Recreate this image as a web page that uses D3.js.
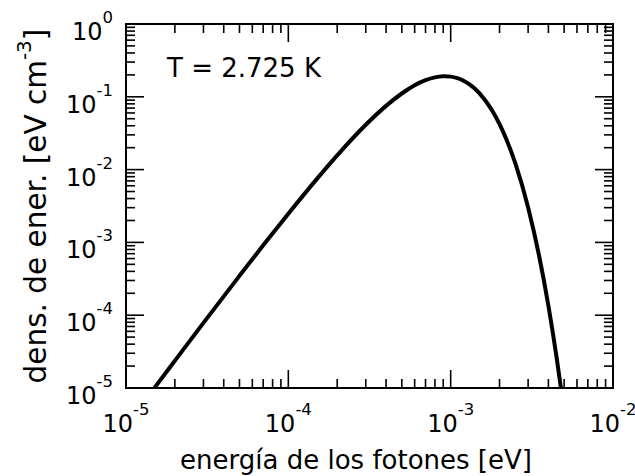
<!DOCTYPE html>
<html>
<head>
<meta charset="utf-8">
<script src="https://cdn.jsdelivr.net/npm/d3@7"></script>
<style>
  body { margin: 0; background: #fff; }
  text { font-family: "DejaVu Sans", sans-serif; fill: #000; }
</style>
</head>
<body>
<div id="chart"></div>
<script>
// energia de los fotones [eV] y densidad de energia [eV cm^-3]
const energia = [1.5e-5, 2e-5, 3e-5, 5e-5, 7e-5, 1e-4, 1.5e-4, 2e-4, 3e-4, 4e-4, 5e-4, 6e-4, 7e-4,
  8e-4, 9e-4, 9.2e-4, 1e-3, 1.1e-3, 1.2e-3, 1.3e-3, 1.4e-3, 1.6e-3, 1.8e-3, 2e-3, 2.2e-3, 2.5e-3,
  3e-3, 3.5e-3, 4e-3, 4.5e-3, 4.8e-3];
const densidad = [1.01e-5, 2.37e-5, 7.84e-5, 3.47e-4, 9.12e-4, 2.48e-3, 7.46e-3, 0.0157, 0.0413, 0.0751,
  0.111, 0.144, 0.169, 0.185, 0.1914, 0.1917, 0.1892, 0.180, 0.166, 0.149, 0.1308, 0.0950, 0.0649,
  0.0422, 0.0264, 0.01225, 3.02e-3, 6.66e-4, 1.35e-4, 2.57e-5, 9.3e-6];
const xDecadas = [-5, -4, -3, -2];
const yDecadas = [-5, -4, -3, -2, -1, 0];

const W = 635, H = 476;
const margin = { top: 24, right: 22, bottom: 88, left: 126 };
const width = W - margin.left - margin.right;
const height = H - margin.top - margin.bottom;

const svg = d3.select("#chart").append("svg")
  .attr("width", W)
  .attr("height", H);

const g = svg.append("g")
  .attr("transform", `translate(${margin.left},${margin.top})`);

const x = d3.scaleLog().domain([1e-5, 1e-2]).range([0, width]);
const y = d3.scaleLog().domain([1e-5, 1]).range([height, 0]);

const isMajor = v => Math.abs(Math.log10(v) - Math.round(Math.log10(v))) < 1e-6;

// ticks on all four sides, pointing inward
function drawTicks(scale, vals, side) {
  vals.forEach(v => {
    const len = isMajor(v) ? 18 : 9;
    const p = scale(v);
    let l;
    if (side === "bottom") l = [p, height, p, height - len];
    if (side === "top") l = [p, 0, p, len];
    if (side === "left") l = [0, p, len, p];
    if (side === "right") l = [width, p, width - len, p];
    g.append("line")
      .attr("x1", l[0]).attr("y1", l[1]).attr("x2", l[2]).attr("y2", l[3])
      .attr("stroke", "#000")
      .attr("stroke-width", 1.6);
  });
}
drawTicks(x, x.ticks(), "bottom");
drawTicks(x, x.ticks(), "top");
drawTicks(y, y.ticks(), "left");
drawTicks(y, y.ticks(), "right");

// curve
g.append("clipPath").attr("id", "clip")
  .append("rect").attr("width", width).attr("height", height);

const line = d3.line()
  .x((d, i) => x(energia[i]))
  .y((d, i) => y(densidad[i]))
  .curve(d3.curveMonotoneX);

g.append("path")
  .datum(energia)
  .attr("clip-path", "url(#clip)")
  .attr("d", line)
  .attr("fill", "none")
  .attr("stroke", "#000")
  .attr("stroke-width", 4);

// frame
g.append("rect")
  .attr("width", width)
  .attr("height", height)
  .attr("fill", "none")
  .attr("stroke", "#000")
  .attr("stroke-width", 2);

// tick labels 10^n
function powLabel(sel, n) {
  sel.append("tspan").text("10");
  sel.append("tspan").attr("dy", -17).style("font-size", "16.5px").text(n);
}

xDecadas.forEach(n => {
  const t = g.append("text")
    .attr("x", x(Math.pow(10, n)))
    .attr("y", height + 44)
    .attr("text-anchor", "middle")
    .style("font-size", "24px");
  powLabel(t, n);
});

yDecadas.forEach(n => {
  const t = g.append("text")
    .attr("x", -13)
    .attr("y", y(Math.pow(10, n)) + 16)
    .attr("text-anchor", "end")
    .style("font-size", "24px");
  powLabel(t, n);
});

// axis titles
svg.append("text")
  .attr("x", 356)
  .attr("y", 469)
  .attr("text-anchor", "middle")
  .style("font-size", "26px")
  .text("energía de los fotones [eV]");

const yl = svg.append("text")
  .attr("transform", `translate(46,${margin.top + height / 2}) rotate(-90)`)
  .attr("text-anchor", "middle")
  .style("font-size", "29.5px");
yl.append("tspan").text("dens. de ener. [eV cm");
yl.append("tspan").attr("dy", -15).style("font-size", "20px").text("-3");
yl.append("tspan").attr("dy", 15).text("]");

// annotation
g.append("text")
  .attr("x", 167 - margin.left)
  .attr("y", 77 - margin.top)
  .style("font-size", "26px")
  .text("T = 2.725 K");
</script>
</body>
</html>
